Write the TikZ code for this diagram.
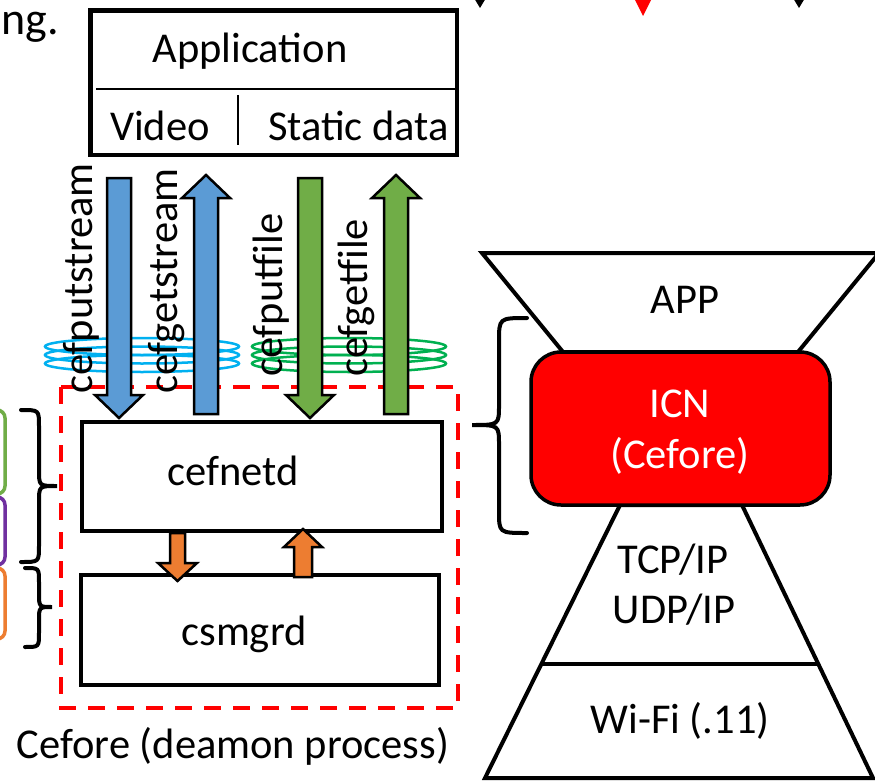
\documentclass[tikz,border=0pt]{standalone}
\usepackage{fontspec}
\setmainfont{Carlito}
\newcommand\lblfont{\fontsize{42.5}{51}\selectfont}
\newcommand\edgefont{\fontsize{46}{55}\selectfont}
\definecolor{arrblue}{HTML}{5B9BD5}
\definecolor{arrgreen}{HTML}{70AD47}
\definecolor{arrorange}{HTML}{ED7D31}
\definecolor{ringblue}{HTML}{00B0F0}
\definecolor{ringgreen}{HTML}{00B050}
\definecolor{boxpurple}{HTML}{7030A0}
\definecolor{icnred}{HTML}{FF0000}
\begin{document}
\begin{tikzpicture}[x=1pt,y=-1pt,
  txt/.style={inner sep=0pt, font=\lblfont},
  boxstyle/.style={draw=black, fill=white, line width=4.5pt, inner sep=0pt},
  blockarr/.style={draw=black, line width=2.5pt, line join=miter},
  ring/.style={line width=2.5pt},
  bracestyle/.style={draw=black, line width=4pt, line cap=round},
  layer/.style={draw=black, line width=4pt, line join=miter, fill=white}]
\clip (0,0) rectangle (875,781);
\fill[white] (0,0) rectangle (875,781);

% partial elements at the edges
\node[inner sep=0pt, font=\edgefont, anchor=base west] (ngtxt) at (1,35) {ng.};
\fill[black] (474,-2) -- (486,-2) -- (480,8) -- cycle;
\fill[icnred] (634,-2) -- (652,-2) -- (643,16) -- cycle;
\fill[black] (793,-2) -- (805,-2) -- (799,8) -- cycle;
\draw[arrgreen, line width=3.5pt, rounded corners=8pt] (-60,410) rectangle (5,494);
\draw[boxpurple, line width=3.5pt, rounded corners=8pt] (-60,497) rectangle (5,565);
\draw[arrorange, line width=3.5pt, rounded corners=8pt] (-60,568) rectangle (5,639);

% left braces
\draw[bracestyle] (21,410) .. controls (39,410) .. (39,426) -- (39,470) .. controls (39,486) .. (57,486)
  .. controls (39,486) .. (39,502) -- (39,546) .. controls (39,562) .. (21,562);
\draw[bracestyle] (25,568) .. controls (39,568) .. (39,582) -- (39,593) .. controls (39,607) .. (52,607)
  .. controls (39,607) .. (39,621) -- (39,633) .. controls (39,647) .. (25,647);

% rings
\foreach \yy in {346.5,355,363.5} {
  \draw[ring, ringblue] (142,\yy) ellipse [x radius=97, y radius=8.5];
  \draw[ring, ringgreen] (349,\yy) ellipse [x radius=97, y radius=8.5];
}

% dashed daemon boundary
\draw[icnred, line width=3.5pt, dash pattern=on 17pt off 12pt] (61,387) rectangle (458,708);

% application box
\node[boxstyle, minimum width=366.5pt, minimum height=144.5pt] (app) at (273.75,82.75) {};
\draw[line width=2.5pt] (96,89) -- (457,89);
\draw[line width=2.5pt] (238,95) -- (238,145);
\node[txt, anchor=base] (apptxt) at (250,63) {Application};
\node[txt, anchor=base] (video) at (160,140) {Video};
\node[txt, anchor=base] (static) at (358.5,140) {Static data};

% daemon boxes
\node[boxstyle, minimum width=360pt, minimum height=109pt] (cefnetd) at (262,476.5) {};
\node[boxstyle, minimum width=358pt, minimum height=110pt] (csmgrd) at (260,630) {};
\node[txt, anchor=base] (cefnetdtxt) at (233,485) {cefnetd};
\node[txt, anchor=base] (csmgrdtxt) at (244,645) {csmgrd};
\node[txt, anchor=base] (daemon) at (233,758) {Cefore (deamon process)};

% block arrows
\draw[blockarr, fill=arrblue] (107,178) -- (131,178) -- (131,395) -- (143,395) -- (119,418) -- (95,395) -- (107,395) -- cycle;
\draw[blockarr, fill=arrblue] (194,414) -- (218,414) -- (218,198) -- (230,198) -- (206,175) -- (182,198) -- (194,198) -- cycle;
\draw[blockarr, fill=arrgreen] (298,178) -- (322,178) -- (322,395) -- (334,395) -- (310,418) -- (286,395) -- (298,395) -- cycle;
\draw[blockarr, fill=arrgreen] (384,414) -- (408,414) -- (408,198) -- (420,198) -- (396,175) -- (372,198) -- (384,198) -- cycle;
\draw[blockarr, fill=arrorange] (170,533) -- (185,533) -- (185,563) -- (197,563) -- (177.5,581) -- (158,563) -- (170,563) -- cycle;
\draw[blockarr, fill=arrorange] (294,577) -- (312,577) -- (312,547) -- (322,547) -- (303,529) -- (284,547) -- (294,547) -- cycle;

% rotated API labels
\node[txt, rotate=90, anchor=base west] (putstream) at (92,394) {cefputstream};
\node[txt, rotate=90, anchor=base west] (getstream) at (177,394) {cefgetstream};
\node[txt, rotate=90, anchor=base west] (putfile) at (282,377) {cefputfile};
\node[txt, rotate=90, anchor=base west] (getfile) at (367,377) {cefgetfile};

% protocol hourglass
\draw[layer] (482,253) -- (879,253) -- (798,352) -- (563,352) -- cycle;
\draw[layer] (620,505) -- (485,778) -- (873,778) -- (742,505) -- cycle;
\draw[line width=4pt] (541,664) -- (818,664);
\node[draw=black, fill=icnred, line width=3.5pt, rounded corners=30pt, minimum width=299pt, minimum height=153pt, inner sep=0pt] (icn) at (680.5,428.5) {};
\node[txt, anchor=base] (apptop) at (685,313) {APP};
\node[txt, anchor=base, text=white] (icntxt) at (680,417) {ICN};
\node[txt, anchor=base, text=white] (ceforetxt) at (680,468) {(Cefore)};
\node[txt, anchor=base] (tcp) at (673,573) {TCP/IP};
\node[txt, anchor=base] (udp) at (674,623) {UDP/IP};
\node[txt, anchor=base] (wifi) at (680,733) {Wi-Fi (.11)};

% right brace
\draw[bracestyle] (527,318) .. controls (499,318) .. (499,342) -- (499,405) .. controls (499,425) .. (472,425)
  .. controls (499,425) .. (499,445) -- (499,511) .. controls (499,533) .. (527,533);
\end{tikzpicture}
\end{document}
